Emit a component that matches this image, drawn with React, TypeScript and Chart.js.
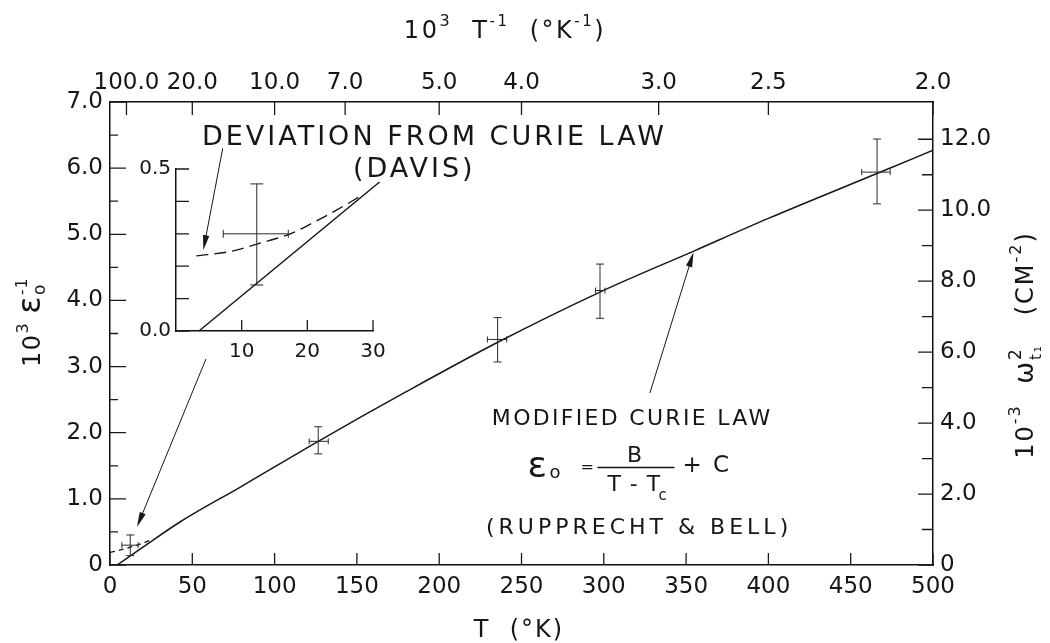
import React, { useEffect, useRef } from "react";
import { Chart, registerables } from "chart.js";

Chart.register(...registerables);

const FONT = '"DejaVu Sans", sans-serif';
const INK = "#161616";

// ---------------- data ----------------
// modified Curie law curve: T (K) vs 10^3 / eps0
const curveT = [4.3, 20, 42.5, 80, 126.5, 180, 235, 298, 355, 400, 470, 500];
const curveY = [0, 0.27, 0.65, 1.19, 1.87, 2.62, 3.36, 4.13, 4.75, 5.24, 5.96, 6.27];

// deviation from Curie law (Davis), dashed, main panel
const davisMainT = [0, 8, 14, 20, 26];
const davisMainY = [0.19, 0.24, 0.28, 0.33, 0.39];

// measurements with error bars
const measT = [12.3, 126.5, 235.5, 297.7, 466];
const measY = [0.3, 1.87, 3.41, 4.15, 5.94];
const measTLow = [7.2, 121, 229.3, 295, 456.7];
const measTHigh = [17.1, 132.6, 241, 300.7, 474];
const measYLow = [0.142, 1.68, 3.07, 3.73, 5.46];
const measYHigh = [0.454, 2.09, 3.74, 4.55, 6.44];

// axis ticks
const bottomTicks = [0, 50, 100, 150, 200, 250, 300, 350, 400, 450, 500];
const bottomLabels = ["0", "50", "100", "150", "200", "250", "300", "350", "400", "450", "500"];
const topTickT = [10, 50, 100, 142.857, 200, 250, 333.333, 400, 500];
const topTickLabels = ["100.0", "20.0", "10.0", "7.0", "5.0", "4.0", "3.0", "2.5", "2.0"];
const leftTicks = [0, 1, 2, 3, 4, 5, 6, 7];
const leftLabels = ["0", "1.0", "2.0", "3.0", "4.0", "5.0", "6.0", "7.0"];
const leftMinorTicks = [0.5, 1.5, 2.5, 3.5, 4.5, 5.5, 6.5];
const rightTicks = [0, 2, 4, 6, 8, 10, 12];
const rightLabels = ["0", "2.0", "4.0", "6.0", "8.0", "10.0", "12.0"];
const rightMinorTicks = [1, 3, 5, 7, 9, 11];

// inset
const insetSolidT = [3.5, 31];
const insetSolidY = [0, 0.46];
const insetDavisT = [3.1, 8.2, 12.8, 17.4, 21.4, 24.5, 28];
const insetDavisY = [0.232, 0.245, 0.271, 0.3, 0.34, 0.374, 0.415];
const insetXTicks = [10, 20, 30];
const insetXLabels = ["10", "20", "30"];
const insetYTicks = [0, 0.1, 0.2, 0.3, 0.4, 0.5];
const insetYLabels = ["0.0", "", "", "", "", "0.5"];

// ---------------- layout constants ----------------
const W = 1050, H = 643;
const AX_L = 110, AX_R = 117, AX_T = 102, AX_B = 78;
const PLOT_W = W - AX_L - AX_R;
const PLOT_H = H - AX_T - AX_B;
const IN_W = 280, IN_H = 230, IN_L = 56, IN_B = 49, IN_PT = 19, IN_PR = 27;
const IN_PLOT_W = IN_W - IN_L - IN_PR;
const IN_PLOT_H = IN_H - IN_B - IN_PT;

// ---------------- drawing helpers ----------------
type Seg = { t: string; size: number; dy?: number; sub?: string; subSize?: number; subDy?: number };

function setFont(ctx: CanvasRenderingContext2D, size: number, ls: number) {
  ctx.font = `${size}px ${FONT}`;
  (ctx as any).letterSpacing = `${ls}px`;
}

function segWidth(ctx: CanvasRenderingContext2D, s: Seg, ls: number) {
  setFont(ctx, s.size, ls);
  let w = ctx.measureText(s.t).width;
  if (s.sub) {
    setFont(ctx, s.subSize || s.size, ls);
    w = Math.max(w, ctx.measureText(s.sub).width);
  }
  return w;
}

function drawRich(
  ctx: CanvasRenderingContext2D,
  segs: Seg[],
  x: number,
  y: number,
  opts: { align?: "left" | "center"; ls?: number; rot?: number } = {}
) {
  const ls = opts.ls ?? 0;
  ctx.save();
  ctx.translate(x, y);
  if (opts.rot) ctx.rotate(opts.rot);
  ctx.fillStyle = INK;
  ctx.textAlign = "left";
  ctx.textBaseline = "alphabetic";
  const total = segs.reduce((a, s) => a + segWidth(ctx, s, ls), 0);
  let cx = opts.align === "center" ? -total / 2 : 0;
  for (const s of segs) {
    const w = segWidth(ctx, s, ls);
    setFont(ctx, s.size, ls);
    ctx.fillText(s.t, cx, s.dy ?? 0);
    if (s.sub) {
      setFont(ctx, s.subSize || s.size, ls);
      ctx.fillText(s.sub, cx, s.subDy ?? 0);
    }
    cx += w;
  }
  (ctx as any).letterSpacing = "0px";
  ctx.restore();
}

function seg(ctx: CanvasRenderingContext2D, x1: number, y1: number, x2: number, y2: number) {
  ctx.beginPath();
  ctx.moveTo(x1, y1);
  ctx.lineTo(x2, y2);
  ctx.stroke();
}

function arrow(ctx: CanvasRenderingContext2D, x1: number, y1: number, x2: number, y2: number) {
  const head = 15;
  const half = 3.2;
  const a = Math.atan2(y2 - y1, x2 - x1);
  ctx.save();
  ctx.setLineDash([]);
  ctx.strokeStyle = INK;
  ctx.fillStyle = INK;
  ctx.lineWidth = 1;
  seg(ctx, x1, y1, x2 - Math.cos(a) * head * 0.6, y2 - Math.sin(a) * head * 0.6);
  ctx.beginPath();
  ctx.moveTo(x2, y2);
  ctx.lineTo(x2 - Math.cos(a) * head - Math.sin(a) * half, y2 - Math.sin(a) * head + Math.cos(a) * half);
  ctx.lineTo(x2 - Math.cos(a) * head + Math.sin(a) * half, y2 - Math.sin(a) * head - Math.cos(a) * half);
  ctx.closePath();
  ctx.fill();
  ctx.restore();
}

function errorBars(ctx: CanvasRenderingContext2D, xs: any, ys: any, idx: number[], capW: number, capH: number) {
  ctx.save();
  ctx.setLineDash([]);
  ctx.strokeStyle = "#2a2a2a";
  ctx.lineWidth = 1;
  for (const i of idx) {
    const px = xs.getPixelForValue(measT[i]);
    const py = ys.getPixelForValue(measY[i]);
    const yl = ys.getPixelForValue(measYLow[i]);
    const yh = ys.getPixelForValue(measYHigh[i]);
    const xl = xs.getPixelForValue(measTLow[i]);
    const xh = xs.getPixelForValue(measTHigh[i]);
    seg(ctx, px, yl, px, yh);
    seg(ctx, px - capW, yl, px + capW, yl);
    seg(ctx, px - capW, yh, px + capW, yh);
    seg(ctx, xl, py, xh, py);
    seg(ctx, xl, py - capH, xl, py + capH);
    seg(ctx, xh, py - capH, xh, py + capH);
  }
  ctx.restore();
}

// inward tick marks, drawn as short line segments through the chart's own scales
const vTicks = (vals: number[], y0: number, len: number) =>
  vals.flatMap((v) => [{ x: v, y: y0 }, { x: v, y: y0 + len }, { x: v, y: null }]);
const hTicks = (vals: number[], x0: number, len: number) =>
  vals.flatMap((v) => [{ x: x0, y: v }, { x: x0 + len, y: v }, { x: x0 + len, y: null }]);

function tickSet(label: string, data: any[], xAxisID: string, yAxisID: string): any {
  return {
    label,
    data,
    xAxisID,
    yAxisID,
    borderColor: "#1a1a1a",
    borderWidth: 1.3,
    pointRadius: 0,
    spanGaps: false,
    tension: 0,
    fill: false,
    clip: 4,
  };
}

// annotation anchors in data units (T, 10^3/eps0)
const notePos = {
  deviation: [55.9, 6.35],
  davis: [147.6, 5.87],
  devArrowFrom: [68.5, 6.3],
  devArrowTo: [56.7, 4.76],
  insetArrowFrom: [58.3, 3.115],
  insetArrowTo: [16.4, 0.575],
  modified: [232, 2.117],
  formula: [253, 1.33],
  rupp: [228.4, 0.469],
  modArrowFrom: [328, 2.6],
  modArrowTo: [354.5, 4.73],
};

const mainDecor = {
  id: "mainDecor",
  afterDraw(chart: any) {
    const ctx: CanvasRenderingContext2D = chart.ctx;
    const xs = chart.scales.x;
    const ys = chart.scales.y;
    const P = (k: keyof typeof notePos) => [xs.getPixelForValue(notePos[k][0]), ys.getPixelForValue(notePos[k][1])];

    errorBars(ctx, xs, ys, [0, 1, 2, 3, 4], 4, 3);

    let a = P("devArrowFrom"), b = P("devArrowTo");
    arrow(ctx, a[0], a[1], b[0], b[1]);
    a = P("insetArrowFrom"); b = P("insetArrowTo");
    arrow(ctx, a[0], a[1], b[0], b[1]);
    a = P("modArrowFrom"); b = P("modArrowTo");
    arrow(ctx, a[0], a[1], b[0], b[1]);

    let p = P("deviation");
    drawRich(ctx, [{ t: "DEVIATION FROM CURIE LAW", size: 27 }], p[0], p[1], { ls: 3 });
    p = P("davis");
    drawRich(ctx, [{ t: "(DAVIS)", size: 27 }], p[0], p[1], { ls: 3 });
    p = P("modified");
    drawRich(ctx, [{ t: "MODIFIED CURIE LAW", size: 22 }], p[0], p[1], { ls: 2.3 });
    p = P("rupp");
    drawRich(ctx, [{ t: "(RUPPRECHT & BELL)", size: 22 }], p[0], p[1], { ls: 4 });

    // formula  eps_o = B / (T - Tc) + C
    const f = P("formula");
    const fx = f[0], fy = f[1];
    drawRich(ctx, [{ t: "ε", size: 36 }], fx + 1, fy);
    drawRich(ctx, [{ t: "o", size: 18 }], fx + 23, fy + 1);
    drawRich(ctx, [{ t: "=", size: 16 }], fx + 54, fy - 5);
    ctx.save();
    ctx.strokeStyle = INK;
    ctx.lineWidth = 1.6;
    seg(ctx, fx + 71, fy - 9.5, fx + 148, fy - 9.5);
    ctx.restore();
    drawRich(ctx, [{ t: "B", size: 22 }], fx + 108, fy - 15, { align: "center" });
    drawRich(ctx, [{ t: "T - T", size: 22 }], fx + 81, fy + 14, { ls: 1 });
    drawRich(ctx, [{ t: "c", size: 15 }], fx + 132, fy + 23);
    drawRich(ctx, [{ t: "+ C", size: 23 }], fx + 156, fy - 5, { ls: 2 });

    // axis titles
    drawRich(
      ctx,
      [
        { t: "10", size: 24 },
        { t: "3", size: 16, dy: -12 },
        { t: "  T", size: 24 },
        { t: "-1", size: 15, dy: -12 },
        { t: "  (°K", size: 24 },
        { t: "-1", size: 15, dy: -12 },
        { t: ")", size: 24 },
      ],
      505,
      38,
      { align: "center", ls: 2.5 }
    );
    drawRich(ctx, [{ t: "T  (°K)", size: 24 }], 519, 637, { align: "center", ls: 2 });
    drawRich(
      ctx,
      [
        { t: "10", size: 24 },
        { t: "3", size: 16, dy: -12 },
        { t: " ", size: 20 },
        { t: "ε", size: 32 },
        { t: "-1", size: 15, dy: -13, sub: "o", subSize: 17, subDy: 5 },
      ],
      40,
      322,
      { align: "center", rot: -Math.PI / 2, ls: 1.5 }
    );
    drawRich(
      ctx,
      [
        { t: "10", size: 24 },
        { t: "-3", size: 16, dy: -13 },
        { t: "  ω", size: 26 },
        { t: "2", size: 17, dy: -12, sub: "t₁", subSize: 15, subDy: 8 },
        { t: "   (CM", size: 24 },
        { t: "-2", size: 16, dy: -12 },
        { t: ")", size: 24 },
      ],
      1033,
      345,
      { align: "center", rot: -Math.PI / 2, ls: 2 }
    );
  },
};

const insetDecor = {
  id: "insetDecor",
  afterDraw(chart: any) {
    errorBars(chart.ctx, chart.scales.x, chart.scales.y, [0], 6.5, 4);
  },
};

function axis(pos: string, min: number, max: number, values: number[], labels: string[], pad: number, size: number, fit: number): any {
  const horiz = pos === "top" || pos === "bottom";
  return {
    type: "linear",
    position: pos,
    min,
    max,
    afterBuildTicks: (s: any) => {
      s.ticks = values.map((v) => ({ value: v }));
    },
    ticks: {
      autoSkip: false,
      maxRotation: 0,
      padding: pad,
      color: INK,
      font: { family: FONT, size },
      callback: (_v: any, i: number) => labels[i],
    },
    grid: { display: false, drawTicks: false },
    border: { display: true, color: "#111", width: 1.5 },
    afterFit: (s: any) => {
      if (horiz) s.height = fit;
      else s.width = fit;
    },
  };
}

function mainConfig(): any {
  const X_MAX = 500, Y_MAX = 7, Y2_MAX = 13.05;
  const xPer = X_MAX / PLOT_W;
  const yPer = Y_MAX / PLOT_H;
  return {
    type: "line",
    data: {
      datasets: [
        {
          label: "Modified Curie law",
          data: curveT.map((t, i) => ({ x: t, y: curveY[i] })),
          borderColor: INK,
          borderWidth: 1.5,
          pointRadius: 0,
          cubicInterpolationMode: "monotone",
          fill: false,
        },
        {
          label: "Deviation (Davis)",
          data: davisMainT.map((t, i) => ({ x: t, y: davisMainY[i] })),
          borderColor: INK,
          borderWidth: 1.3,
          borderDash: [5, 4],
          pointRadius: 0,
          cubicInterpolationMode: "monotone",
          fill: false,
        },
        {
          label: "Measurements",
          data: measT.map((t, i) => ({ x: t, y: measY[i] })),
          showLine: false,
          pointRadius: 0,
          borderColor: INK,
        },
        tickSet("ticks bottom", vTicks(bottomTicks, 0, 12 * yPer), "x", "y"),
        tickSet("ticks top", vTicks(topTickT, Y_MAX, -13 * yPer), "x2", "y"),
        tickSet("ticks left", hTicks(leftTicks, 0, 16 * xPer), "x", "y"),
        tickSet("ticks left minor", hTicks(leftMinorTicks, 0, 8 * xPer), "x", "y"),
        tickSet("ticks right", hTicks(rightTicks, X_MAX, -15 * xPer), "x", "y2"),
        tickSet("ticks right minor", hTicks(rightMinorTicks, X_MAX, -11 * xPer), "x", "y2"),
      ],
    },
    options: {
      animation: false,
      responsive: false,
      devicePixelRatio: 1,
      events: [],
      layout: { padding: 0 },
      plugins: { legend: { display: false }, tooltip: { enabled: false }, title: { display: false } },
      scales: {
        x: axis("bottom", 0, X_MAX, bottomTicks, bottomLabels, 8, 23, AX_B),
        x2: axis("top", 0, X_MAX, topTickT, topTickLabels, 5, 23, AX_T),
        y: axis("left", 0, Y_MAX, leftTicks, leftLabels, 7, 23, AX_L),
        y2: axis("right", 0, Y2_MAX, rightTicks, rightLabels, 7, 23, AX_R),
      },
    },
    plugins: [mainDecor],
  };
}

function insetConfig(): any {
  const X_MAX = 30, Y_MAX = 0.5;
  const xPer = X_MAX / IN_PLOT_W;
  const yPer = Y_MAX / IN_PLOT_H;
  return {
    type: "line",
    data: {
      datasets: [
        {
          label: "Modified Curie law (inset)",
          data: insetSolidT.map((t, i) => ({ x: t, y: insetSolidY[i] })),
          borderColor: INK,
          borderWidth: 1.5,
          pointRadius: 0,
          clip: false,
        },
        {
          label: "Davis (inset)",
          data: insetDavisT.map((t, i) => ({ x: t, y: insetDavisY[i] })),
          borderColor: INK,
          borderWidth: 1.4,
          borderDash: [12, 6],
          pointRadius: 0,
          cubicInterpolationMode: "monotone",
          clip: false,
        },
        tickSet("inset ticks x", vTicks(insetXTicks, 0, 11 * yPer), "x", "y"),
        tickSet("inset ticks y", hTicks(insetYTicks, 0, 13 * xPer), "x", "y"),
      ],
    },
    options: {
      animation: false,
      responsive: false,
      devicePixelRatio: 1,
      events: [],
      layout: { padding: { top: IN_PT, right: IN_PR, left: 0, bottom: 0 } },
      plugins: { legend: { display: false }, tooltip: { enabled: false } },
      scales: {
        x: axis("bottom", 0, X_MAX, insetXTicks, insetXLabels, 9, 20, IN_B),
        y: axis("left", 0, Y_MAX, insetYTicks, insetYLabels, 5, 20, IN_L),
      },
    },
    plugins: [insetDecor],
  };
}

export default function App() {
  const mainRef = useRef<HTMLCanvasElement>(null);
  const insetRef = useRef<HTMLCanvasElement>(null);
  useEffect(() => {
    const main = new Chart(mainRef.current as HTMLCanvasElement, mainConfig());
    const inset = new Chart(insetRef.current as HTMLCanvasElement, insetConfig());
    return () => {
      main.destroy();
      inset.destroy();
    };
  }, []);
  return (
    <div style={{ position: "absolute", left: 0, top: 0, width: W, height: H, background: "#fff" }}>
      <canvas ref={mainRef} width={W} height={H} style={{ position: "absolute", left: 0, top: 0 }} />
      <canvas ref={insetRef} width={IN_W} height={IN_H} style={{ position: "absolute", left: 120, top: 150 }} />
    </div>
  );
}
